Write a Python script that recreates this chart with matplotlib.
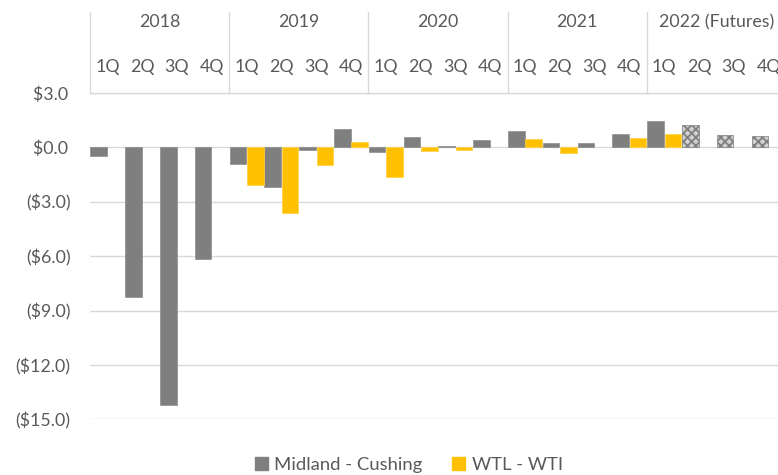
import numpy as np
import matplotlib
matplotlib.use("Agg")
import matplotlib.pyplot as plt
from matplotlib.patches import Patch
import matplotlib.transforms as mtransforms

plt.rcParams['font.family'] = ['Lato', 'DejaVu Sans']
plt.rcParams['hatch.linewidth'] = 1.3

years = ["2018", "2019", "2020", "2021", "2022 (Futures)"]
quarters = ["1Q", "2Q", "3Q", "4Q"]

nan = np.nan
midland = [-0.5, -8.25, -14.2, -6.15,
           -0.92, -2.18, -0.15, 0.99,
           -0.28, 0.55, 0.1, 0.43,
           0.92, 0.24, 0.24, 0.74,
           1.45, nan, nan, nan]
midland_futures = [nan] * 17 + [1.22, 0.71, 0.65]
wtl = [nan, nan, nan, nan,
       -2.08, -3.63, -0.98, 0.31,
       -1.66, -0.22, -0.15, nan,
       0.46, -0.33, nan, 0.54,
       0.74, nan, nan, nan]

yticks = [3, 0, -3, -6, -9, -12, -15]

GRAY = '#7f7f7f'
YEL = '#ffc000'
TXT = '#595959'
GRID = '#d9d9d9'
FS = 12.8

W, H = 778, 475
fig = plt.figure(figsize=(W / 100, H / 100), dpi=100)
ax_left, ax_right = 90, 786
ax_top, ax_bot = 93, 419.3
ax = fig.add_axes([ax_left / W, 1 - ax_bot / H, (ax_right - ax_left) / W, (ax_bot - ax_top) / H])

n = len(midland)
x = np.arange(n)
bw = 0.48
ax.bar(x - 0.25, midland, width=bw, color=GRAY, edgecolor='#8c8c8c', linewidth=0.5, zorder=3)
ax.bar(x - 0.25, midland_futures, width=bw, color='#d0d0d0', edgecolor=GRAY, hatch='xxxx', linewidth=0.5, zorder=3)
ax.bar(x + 0.25, wtl, width=bw, color=YEL, edgecolor='#ffd040', linewidth=0.5, zorder=3)

ax.set_xlim(-0.5, n - 0.5)
ax.set_ylim(-15, 3)
ax.set_yticks(yticks)

def fmt(v):
    if v < 0:
        return "(${:.1f})".format(-v)
    return "${:.1f}\u2009".format(v)

ax.set_yticklabels([fmt(v) for v in yticks], color=TXT, fontsize=FS)
ax.tick_params(axis='y', length=0, pad=14)
ax.set_xticks([])
for s in ['left', 'right', 'bottom']:
    ax.spines[s].set_visible(False)
ax.spines['top'].set_color(GRID)
ax.spines['top'].set_linewidth(1.0)
ax.yaxis.grid(True, color=GRID, linewidth=1.0, zorder=0)
ax.set_axisbelow(True)

trans = mtransforms.blended_transform_factory(ax.transData, ax.transAxes)
ph = ax_bot - ax_top
yq = 1 + (93 - 67) / ph
yy = 1 + (93 - 22) / ph
ytopline = 1 + (93 - 12) / ph
for i in range(n):
    ax.text(x[i], yq, quarters[i % 4], transform=trans, ha='center', va='center',
            color=TXT, fontsize=FS, clip_on=False)
for g, yr in enumerate(years):
    ax.text(4 * g + 1.5, yy, yr, transform=trans, ha='center', va='center',
            color=TXT, fontsize=FS, clip_on=False)
    ax.plot([4 * g - 0.5, 4 * g - 0.5], [1, ytopline], transform=trans, color=GRID,
            linewidth=1.0, clip_on=False)

handles = [Patch(facecolor=GRAY, edgecolor=GRAY), Patch(facecolor=YEL, edgecolor=YEL)]
fig.legend(handles, ["Midland - Cushing", "WTL - WTI"], loc='center',
           bbox_to_anchor=(409 / W, 1 - 465 / H), ncol=2, frameon=False,
           handlelength=0.7, handleheight=0.7, handletextpad=0.35, columnspacing=1.6,
           fontsize=13.3, labelcolor=TXT)

fig.savefig("out.png", dpi=100)
